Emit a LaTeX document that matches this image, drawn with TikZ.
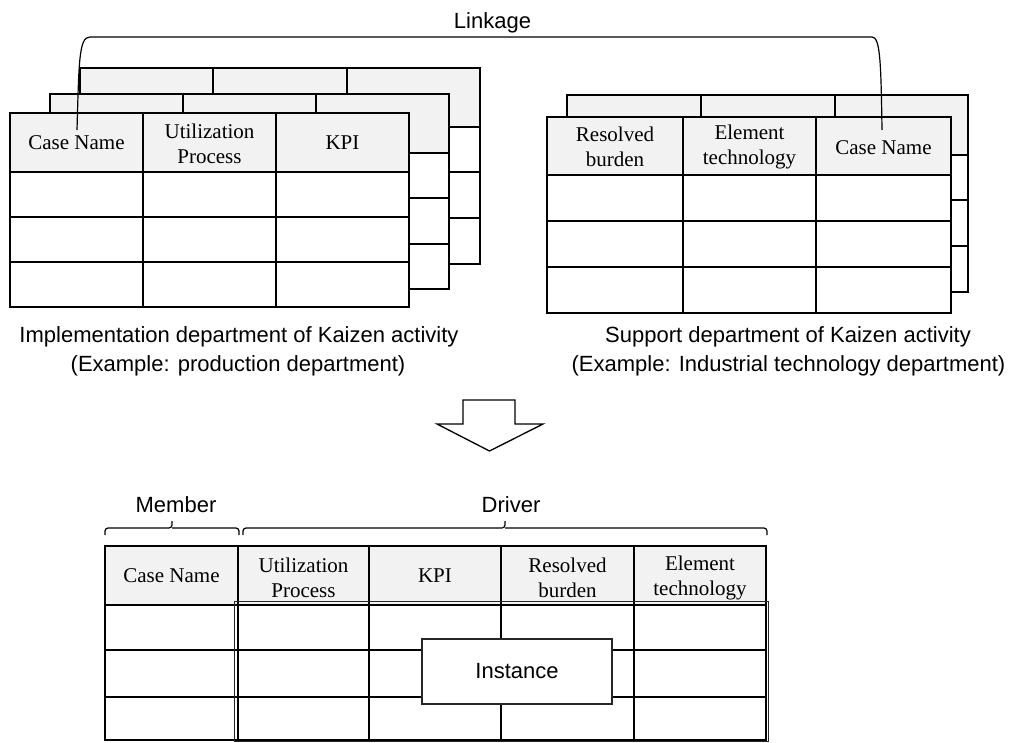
\documentclass[tikz,border=0pt]{standalone}
\usepackage{fontspec}
\setmainfont{Liberation Serif}
\setsansfont{Liberation Sans}
\definecolor{hdrgray}{HTML}{F2F2F2}
\tikzset{
  tline/.style={line width=2pt},
  cell/.style={font=\fontsize{21}{25}\selectfont\rmfamily, align=center, inner sep=0pt},
  sanslbl/.style={font=\fontsize{22}{27}\selectfont\sffamily, inner sep=0pt, anchor=base},
  bracepath/.style={line width=1.2pt, rounded corners=3pt},
  linkpath/.style={line width=1.2pt},
}
% #1 x left, #2 x right, #3 inner columns, #4 y top, #5 y header bottom, #6 y bottom, #7 inner rows
\newcommand\ktable[7]{%
  \fill[hdrgray] (#1,#4) rectangle (#2,#5);
  \fill[white] (#1,#5) rectangle (#2,#6);
  \foreach \r in {#7} \draw[tline] (#1,\r) -- (#2,\r);
  \foreach \c in {#3} \draw[tline] (\c,#4) -- (\c,#6);
  \draw[tline] (#1,#5) -- (#2,#5);
  \draw[tline] (#1,#4) rectangle (#2,#6);
}
\begin{document}
\begin{tikzpicture}[x=1pt,y=-1pt]
\useasboundingbox (0,0) rectangle (1011,742);

% ---- left stack of tables ----
\ktable{80}{480}{213,347}{68}{127}{264}{172,218}
\ktable{50}{449}{183,316}{94}{153}{289}{198,244}
\ktable{10}{409}{143,276}{113}{172}{307}{217,262}
\node[cell] (l1) at (76.5,143) {Case Name};
\node[cell] (l2) at (209.5,144) {Utilization\\Process};
\node[cell] (l3) at (342.5,143) {KPI};

% ---- right stack of tables ----
\ktable{567}{968}{701,835}{95}{155}{292}{200,246}
\ktable{547}{951}{683,816}{117}{175}{313}{221,267}
\node[cell] (r1) at (615,147) {Resolved\\burden};
\node[cell] (r2) at (749.5,147) {Element\\technology};
\node[cell] (r3) at (883.5,148) {Case Name};

% ---- linkage ----
\coordinate (lkA) at (77,130);
\coordinate (lkB) at (882,130);
\draw[linkpath] (lkA) .. controls (79,60) and (79,37) .. (90,37) -- (872,37)
  .. controls (880,37) and (881,60) .. (lkB);
\node[sanslbl] (link) at (492.5,28) {Linkage};

% ---- captions ----
\node[sanslbl] (capL1) at (239,342) {Implementation department of Kaizen activity};
\node[sanslbl] (capL2) at (238,371) {(Example: production department)};
\node[sanslbl] (capR1) at (788,342) {Support department of Kaizen activity};
\node[sanslbl] (capR2) at (788.5,371) {(Example: Industrial technology department)};

% ---- block arrow ----
\draw[line width=1.3pt, fill=white, line join=miter]
  (463,400) -- (515,400) -- (515,424) -- (543,424) -- (489.5,451)
  -- (437,424) -- (463,424) -- cycle;

% ---- bottom table ----
\ktable{105}{766}{238,369,501,634}{546}{605}{740}{650,697}
\node[cell] (b1) at (171.5,576) {Case Name};
\node[cell] (b2) at (303.5,578) {Utilization\\Process};
\node[cell] (b3) at (435,576) {KPI};
\node[cell] (b4) at (567.5,578) {Resolved\\burden};
\node[cell] (b5) at (700,578) {Element\\technology};
\draw[line width=1pt, draw=black!85] (234,601) rectangle (768.5,741);
\node[draw, line width=1.3pt, draw=black!85, fill=white, minimum width=190pt,
      minimum height=65pt, font=\fontsize{22}{27}\selectfont\sffamily] (inst) at (517,671.5) {Instance};

% ---- braces ----
\draw[bracepath] (105,535) |- (172,528) -- (172,521);
\draw[bracepath] (172,528) -| (239,535);
\draw[bracepath] (243,535) |- (505,528) -- (505,521);
\draw[bracepath] (505,528) -| (767,535);
\node[sanslbl] (member) at (176,512) {Member};
\node[sanslbl] (driver) at (511,512) {Driver};
\end{tikzpicture}
\end{document}
